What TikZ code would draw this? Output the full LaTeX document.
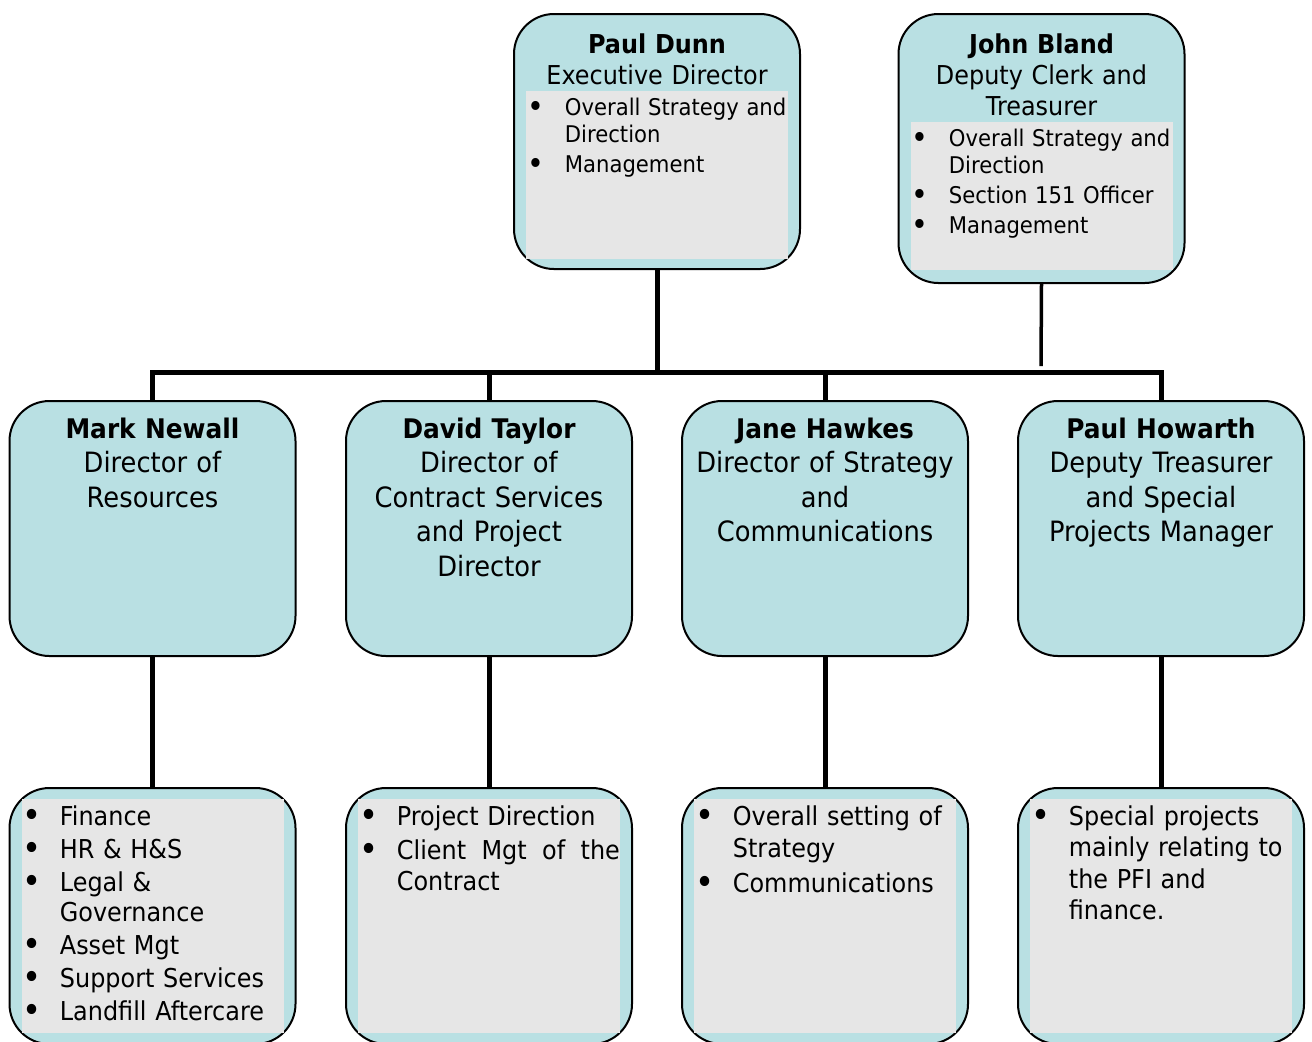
\documentclass[tikz,border=0pt]{standalone}
\usepackage{xcolor}
\usepackage{graphicx}
\usepackage{fontspec}
\setmainfont{DejaVu Sans}[FakeStretch=0.92]
\usepackage{tikz}
\usetikzlibrary{positioning, calc}

\definecolor{boxblue}{RGB}{185,224,227}
\definecolor{listgrey}{RGB}{230,230,230}

\newlength{\bulletindent}
\setlength{\bulletindent}{18.75pt}
\newcommand{\orgitem}[1]{\hangindent=\bulletindent\hangafter=1\noindent\makebox[\bulletindent][l]{\raisebox{-1.2pt}{\scalebox{1.35}{\textbullet}}}#1\par}

\begin{document}
\begin{tikzpicture}[x=0.5pt, y=-0.5pt,
    orgbox/.style={draw, line width=1pt, fill=boxblue, rounded corners=20pt, minimum width=143pt, minimum height=127.5pt, inner sep=0pt},
    conn/.style={line width=2.5pt},
    headtext/.style={anchor=north, inner sep=0pt, text width=142pt, align=center, font=\fontsize{13}{15.5}\selectfont},
    midtext/.style={headtext, font=\fontsize{14}{17.25}\selectfont},
    toplist/.style={anchor=north west, inner sep=0pt, text width=140pt, align=left, font=\fontsize{11.5}{13.5}\selectfont, execute at begin node={\setlength{\parskip}{1.5pt}}},
    sublist/.style={toplist, font=\fontsize{13}{15.5}\selectfont}]
        \useasboundingbox (0,0) rectangle (1312,1041);
        \clip (0,0) rectangle (1312,1041);

        % Top boxes
        \node[orgbox] (dunn) at (657,141.5) {};
        \node[orgbox, minimum height=134.5pt] (bland) at (1041.5,148.5) {};

        % Directors
        \node[orgbox] (newall) at (152.5,528.5) {};
        \node[orgbox] (taylor) at (489,528.5) {};
        \node[orgbox] (hawkes) at (825,528.5) {};
        \node[orgbox] (howarth) at (1161,528.5) {};

        % Responsibilities
        \node[orgbox, minimum height=128pt] (newallsub) at (152.5,916) {};
        \node[orgbox, minimum height=128pt] (taylorsub) at (489,916) {};
        \node[orgbox, minimum height=128pt] (hawkessub) at (825,916) {};
        \node[orgbox, minimum height=128pt] (howarthsub) at (1161,916) {};

        % Grey list areas
        \fill[listgrey] ($(dunn.north west)+(13,78)$) rectangle ($(dunn.south east)+(-13,-11)$);
        \fill[listgrey] ($(bland.north west)+(13,109)$) rectangle ($(bland.south east)+(-13,-14)$);
        \foreach \b in {newallsub, taylorsub, hawkessub, howarthsub}
            \fill[listgrey] ($(\b.north west)+(13,12)$) rectangle ($(\b.south east)+(-13,-12)$);

        % Connectors
        \coordinate (bar) at (657,372);
        \coordinate (blandend) at (1041,366);
        \draw[conn] (dunn.south) -- (bar);
        \draw[conn] (newall.north) |- (bar) -| (howarth.north);
        \draw[conn] (taylor.north) -- (taylor.north |- bar);
        \draw[conn] (hawkes.north) -- (hawkes.north |- bar);
        \draw[conn, line width=1.75pt] (bland.south) -- (blandend);
        \draw[conn] (newall.south) -- (newallsub.north);
        \draw[conn] (taylor.south) -- (taylorsub.north);
        \draw[conn] (hawkes.south) -- (hawkessub.north);
        \draw[conn] (howarth.south) -- (howarthsub.north);

        % Top texts
        \node[headtext] (dunnhead) at (657,33) {\textbf{Paul Dunn}\\Executive Director};
        \node[headtext] (blandhead) at (1041.5,33) {\textbf{John Bland}\\Deputy Clerk and\\Treasurer};
        \node[toplist] (dunnlist) at (527,97.5) {\orgitem{Overall Strategy and\newline Direction}\orgitem{Management}};
        \node[toplist] (blandlist) at (911,128.5) {\orgitem{Overall Strategy and\newline Direction}\orgitem{Section 151 Officer}\orgitem{Management}};

        % Director texts
        \node[midtext] (newallhead) at (152.5,417.5) {{\fontsize{13.5}{17.25}\selectfont\bfseries Mark Newall}\\Director of\\Resources};
        \node[midtext] (taylorhead) at (489,417.5) {{\fontsize{13.5}{17.25}\selectfont\bfseries David Taylor}\\Director of\\Contract Services\\and Project\\Director};
        \node[midtext] (hawkeshead) at (825,417.5) {{\fontsize{13.5}{17.25}\selectfont\bfseries Jane Hawkes}\\Director of Strategy\\and\\Communications};
        \node[midtext] (howarthhead) at (1161,417.5) {{\fontsize{13.5}{17.25}\selectfont\bfseries Paul Howarth}\\Deputy Treasurer\\and Special\\Projects Manager};

        % Responsibility texts
        \node[sublist, font=\fontsize{13}{15}\selectfont] (newalllist) at (22,805) {\orgitem{Finance}\orgitem{HR \& H\&S}\orgitem{Legal \&\newline Governance}\orgitem{Asset Mgt}\orgitem{Support Services}\orgitem{Landfill Aftercare}};
        \node[sublist] (taylorlist) at (359,805) {\orgitem{Project Direction}\orgitem{\makebox[111.5pt][l]{Client\hfill Mgt\hfill of\hfill the}\newline Contract}};
        \node[sublist, font=\fontsize{13}{16}\selectfont] (hawkeslist) at (695,805) {\orgitem{Overall setting of\newline Strategy}\orgitem{Communications}};
        \node[sublist, font=\fontsize{13}{15.75}\selectfont] (howarthlist) at (1031,805) {\orgitem{Special projects\newline mainly relating to\newline the PFI and\newline finance.}};
    \end{tikzpicture}
\end{document}
